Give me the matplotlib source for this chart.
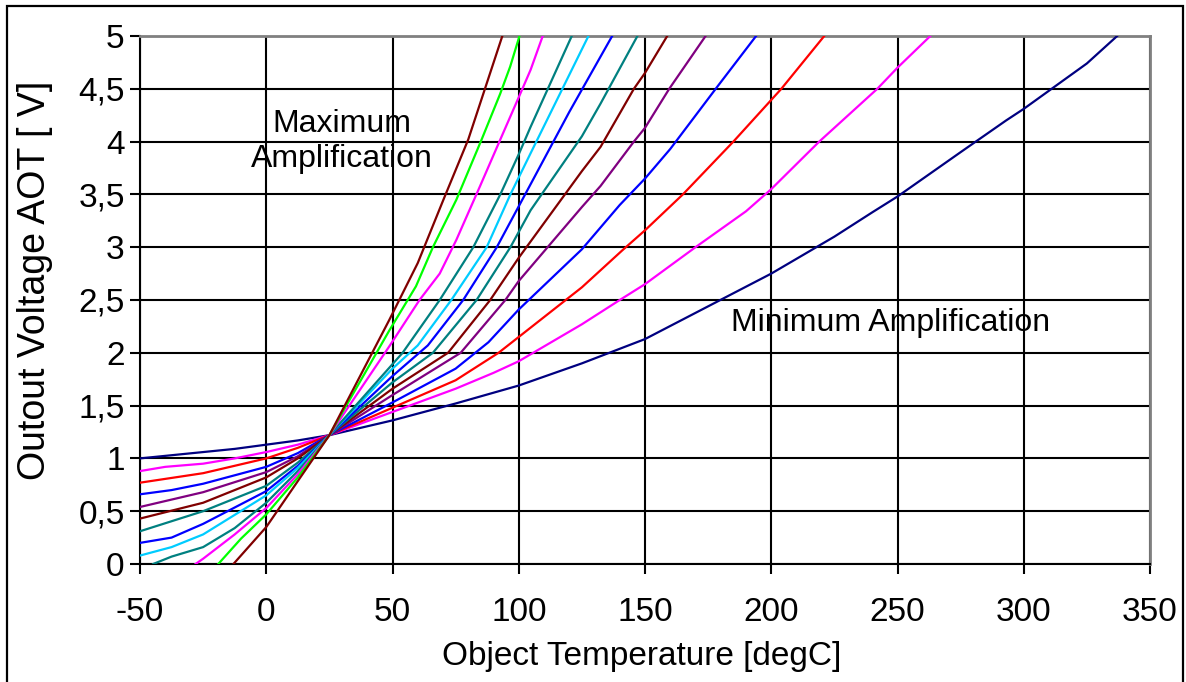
import matplotlib
matplotlib.use("Agg")
import matplotlib.pyplot as plt
from matplotlib.patches import Rectangle

plt.rcParams['font.family'] = ['Liberation Sans', 'DejaVu Sans']
plt.rcParams['axes.unicode_minus'] = False

# object temperature [degC] / output voltage [V], one curve per amplification step
# (ordered from minimum to maximum amplification)
t_navy = [-50, -37.5, -25, -12.5, 0, 12.5, 25, 50, 75, 100, 125, 150, 175, 200, 225, 240, 250, 275, 293, 300, 325, 337]
v_navy = [1.00, 1.03, 1.06, 1.09, 1.13, 1.17, 1.22, 1.36, 1.52, 1.69, 1.90, 2.13, 2.44, 2.75, 3.10, 3.33, 3.48, 3.90, 4.20, 4.31, 4.74, 5.0]

t_magenta = [-50, -40, -25, -12.5, 0, 12.5, 25, 50, 75, 90, 100, 125, 140, 150, 170, 190, 200, 219, 242, 250, 263]
v_magenta = [0.88, 0.92, 0.95, 1.00, 1.06, 1.13, 1.22, 1.44, 1.66, 1.81, 1.92, 2.27, 2.50, 2.65, 3.00, 3.34, 3.55, 4.00, 4.50, 4.70, 5.0]

t_red = [-50, -25, 0, 12.5, 25, 50, 75, 92, 100, 125, 141, 150, 165, 185, 204, 221]
v_red = [0.77, 0.86, 1.00, 1.10, 1.22, 1.48, 1.74, 2.00, 2.15, 2.62, 2.97, 3.16, 3.50, 4.00, 4.50, 5.0]

t_blue = [-50, -37.5, -25, 0, 12.5, 25, 50, 75, 88, 100, 125, 140, 150, 160, 178, 194]
v_blue = [0.66, 0.70, 0.76, 0.92, 1.05, 1.22, 1.53, 1.85, 2.10, 2.41, 2.98, 3.40, 3.65, 3.93, 4.50, 5.0]

t_purple = [-50, -25, 0, 12.5, 25, 50, 77, 94.7, 100, 125, 132.4, 145.6, 150, 159.6, 174]
v_purple = [0.54, 0.68, 0.87, 1.02, 1.22, 1.60, 2.00, 2.50, 2.68, 3.38, 3.58, 4.00, 4.13, 4.50, 5.0]

t_maroon = [-50, -25, 0, 12.5, 25, 50, 72, 88.7, 100, 125, 132.4, 145.6, 150, 158.8]
v_maroon = [0.43, 0.58, 0.82, 1.00, 1.22, 1.66, 2.00, 2.50, 2.90, 3.72, 3.95, 4.50, 4.65, 5.0]

t_teal = [-50, -25, 0, 12.5, 25, 50, 66, 83.3, 96.7, 104.7, 125, 132.4, 147]
v_teal = [0.31, 0.50, 0.74, 0.96, 1.22, 1.72, 2.00, 2.50, 3.00, 3.35, 4.05, 4.36, 5.0]

t_blue2 = [-50, -37.5, -25, 0, 12.5, 25, 50, 64, 78, 91.3, 105, 120, 137]
v_blue2 = [0.20, 0.25, 0.38, 0.69, 0.93, 1.22, 1.78, 2.07, 2.50, 3.00, 3.61, 4.28, 5.0]

t_cyan = [-50, -37.5, -25, 0, 12.5, 25, 50, 60, 73.3, 87.3, 96.7, 104.7, 127.6]
v_cyan = [0.08, 0.16, 0.28, 0.65, 0.91, 1.22, 1.85, 2.07, 2.50, 3.00, 3.50, 3.89, 5.0]

t_teal2 = [-44.8, -37.5, -25, -12.5, 0, 12.5, 25, 54, 68.7, 82, 92.7, 100, 104.7, 121]
v_teal2 = [0.00, 0.07, 0.16, 0.34, 0.58, 0.88, 1.22, 2.00, 2.50, 3.00, 3.50, 3.88, 4.14, 5.0]

t_magenta2 = [-28, -25, -12.5, 0, 12.5, 25, 48.7, 60.7, 68.7, 75.3, 84.7, 92.7, 100, 104.7, 109.5]
v_magenta2 = [0.00, 0.05, 0.28, 0.53, 0.85, 1.22, 2.06, 2.50, 2.75, 3.07, 3.58, 4.02, 4.42, 4.68, 5.0]

t_green = [-19, -10, 0, 12.5, 25, 48.7, 59.3, 66, 75.3, 85.3, 92.6, 96.6, 100.3]
v_green = [0.00, 0.24, 0.47, 0.82, 1.22, 2.21, 2.63, 3.00, 3.45, 4.02, 4.45, 4.71, 5.0]

t_maroon2 = [-13, 0, 13.5, 25, 48.7, 60, 70, 80, 93.5]
v_maroon2 = [0.00, 0.35, 0.82, 1.22, 2.31, 2.85, 3.44, 4.02, 5.0]

curves = [
    (t_navy, v_navy, '#000080'),
    (t_magenta, v_magenta, '#FF00FF'),
    (t_red, v_red, '#FF0000'),
    (t_blue, v_blue, '#0000FF'),
    (t_purple, v_purple, '#800080'),
    (t_maroon, v_maroon, '#800000'),
    (t_teal, v_teal, '#008080'),
    (t_blue2, v_blue2, '#0000FF'),
    (t_cyan, v_cyan, '#00CCFF'),
    (t_teal2, v_teal2, '#008080'),
    (t_magenta2, v_magenta2, '#FF00FF'),
    (t_green, v_green, '#00FF00'),
    (t_maroon2, v_maroon2, '#800000'),
]

x_ticks = [-50, 0, 50, 100, 150, 200, 250, 300, 350]
y_ticks = [0, 0.5, 1, 1.5, 2, 2.5, 3, 3.5, 4, 4.5, 5]
y_tick_labels = ['0', '0,5', '1', '1,5', '2', '2,5', '3', '3,5', '4', '4,5', '5']

W, H = 1186, 682
fig = plt.figure(figsize=(W / 100, H / 100), dpi=100)
ax = fig.add_axes([140 / W, 1 - 564 / H, 1010 / W, 528 / H])

for t, v, c in curves:
    ax.plot(t, v, color=c, linewidth=1.6, zorder=3)

ax.set_xlim(-50, 350)
ax.set_ylim(0, 5)
ax.set_xticks(x_ticks)
ax.set_yticks(y_ticks)
ax.set_yticklabels(y_tick_labels)
ax.grid(True, color='black', linewidth=1.5)
ax.set_axisbelow(True)

ax.tick_params(axis='both', direction='out', length=7, width=1.5, color='black',
               labelsize=24)
ax.tick_params(axis='x', pad=17)
ax.tick_params(axis='y', pad=4)
for side in ['top', 'right']:
    ax.spines[side].set_color('#808080')
    ax.spines[side].set_linewidth(2)
for side in ['left', 'bottom']:
    ax.spines[side].set_color('black')
    ax.spines[side].set_linewidth(1.5)

fig.text(642 / W, 1 - 657 / H, 'Object Temperature [degC]', fontsize=24,
         ha='center', va='center')
fig.text(35 / W, 1 - 280 / H, 'Outout Voltage AOT [ V]', fontsize=27,
         ha='center', va='center', rotation=90)

ax.text(30, 4.0, 'Maximum\nAmplification', fontsize=23, ha='center', va='center',
        linespacing=1.25, zorder=4)
ax.text(184, 2.28, 'Minimum Amplification', fontsize=23, ha='left', va='center', zorder=4)

# chart frame round the whole picture
fig.patches.append(Rectangle((7 / W, -0.02), 1176 / W, 1.02 - 6 / H,
                             transform=fig.transFigure, fill=False,
                             edgecolor='black', linewidth=1.6))

fig.savefig('out.png', dpi=100)
